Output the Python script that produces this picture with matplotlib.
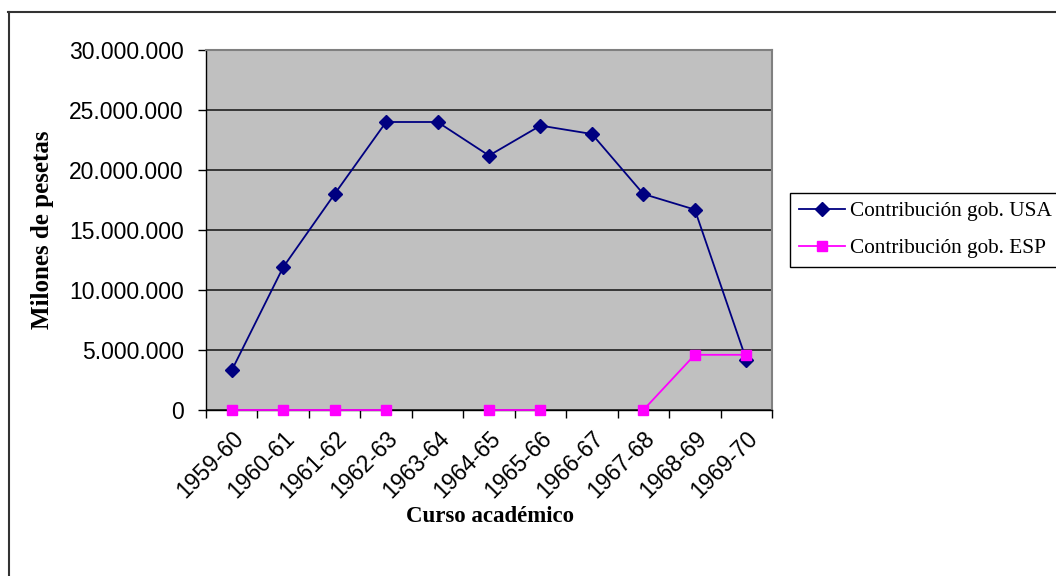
import numpy as np
import matplotlib.pyplot as plt
from matplotlib.lines import Line2D
from matplotlib.ticker import FuncFormatter, FixedLocator, NullFormatter

# --- Data (pesetas per academic year) ---
cursos = ["1959-60", "1960-61", "1961-62", "1962-63", "1963-64", "1964-65",
          "1965-66", "1966-67", "1967-68", "1968-69", "1969-70"]
contrib_usa = [3300000, 11900000, 18000000, 24000000, 24000000, 21200000,
               23700000, 23000000, 18000000, 16700000, 4200000]
# nan = no data for that year
contrib_esp = [0, 0, 0, 0, np.nan, 0, 0, np.nan, 0, 4600000, 4600000]

serif = ["Liberation Serif", "DejaVu Serif"]
sans = ["Liberation Sans", "DejaVu Sans"]


def miles(v, pos):
    return f"{int(round(v)):,}".replace(",", ".")


fig = plt.figure(figsize=(10.56, 5.76), dpi=100)
ax = fig.add_axes([206 / 1056, 1 - 410 / 576, 566 / 1056, 360 / 576])

x = np.arange(len(cursos))
ax.plot(x, contrib_usa, color="#000080", lw=1.3, marker="D", ms=7,
        label="Contribución gob. USA")
ax.plot(x, contrib_esp, color="#FF00FF", lw=1.3, marker="s", ms=7,
        label="Contribución gob. ESP", clip_on=False, zorder=4)

# --- Plot area ---
ax.set_facecolor("#C0C0C0")
ax.set_xlim(-0.5, len(cursos) - 0.5)
ax.set_ylim(0, 30000000)
ax.set_yticks(np.arange(0, 30000001, 5000000))
ax.yaxis.set_major_formatter(FuncFormatter(miles))
ax.grid(True, axis="y", color="#202020", lw=1.2)
ax.set_axisbelow(True)

for s in ["top", "right"]:
    ax.spines[s].set_color("#808080")
    ax.spines[s].set_linewidth(1.5)
for s in ["left", "bottom"]:
    ax.spines[s].set_color("black")
    ax.spines[s].set_linewidth(1.0)

# ticks between categories, labels centred on categories
ax.xaxis.set_major_locator(FixedLocator(np.arange(-0.5, len(cursos), 1.0)))
ax.xaxis.set_major_formatter(NullFormatter())
ax.xaxis.set_minor_locator(FixedLocator(x))
ax.set_xticklabels(cursos, minor=True, rotation=45, ha="right",
                   rotation_mode="anchor", family=sans, fontsize=16.5)
ax.tick_params(axis="x", which="major", direction="out", length=6, width=1)
ax.tick_params(axis="x", which="minor", length=0, pad=12)
ax.tick_params(axis="y", direction="out", length=6, width=1, pad=10)
for t in ax.get_yticklabels():
    t.set_family(sans)
    t.set_fontsize(16.5)

ax.set_ylabel("Milones de pesetas", family=serif, fontweight="bold", fontsize=18)
ax.yaxis.set_label_coords(-0.268, 0.5)
ax.set_xlabel("Curso académico", family=serif, fontweight="bold", fontsize=16.5)
ax.xaxis.set_label_coords(0.502, -0.295)
ax.xaxis.label.set_verticalalignment("center")

# --- Legend ---
leg = ax.legend(loc="upper left", bbox_to_anchor=(790 / 1056, 1 - 193 / 576),
                bbox_transform=fig.transFigure, borderaxespad=0,
                prop={"family": serif, "size": 15.3}, fancybox=False,
                edgecolor="black", framealpha=1, handlelength=2.2,
                handletextpad=0.2, borderpad=0.4, labelspacing=0.8)
leg.get_frame().set_linewidth(1.0)

# --- Outer chart frame ---
fig.add_artist(Line2D([8.5 / 1056, 8.5 / 1056], [0, 1 - 12 / 576],
                      color="#333333", lw=1.5, transform=fig.transFigure))
fig.add_artist(Line2D([8 / 1056, 1], [1 - 12 / 576, 1 - 12 / 576],
                      color="#333333", lw=1.5, transform=fig.transFigure))

fig.savefig("out.png", dpi=100)
